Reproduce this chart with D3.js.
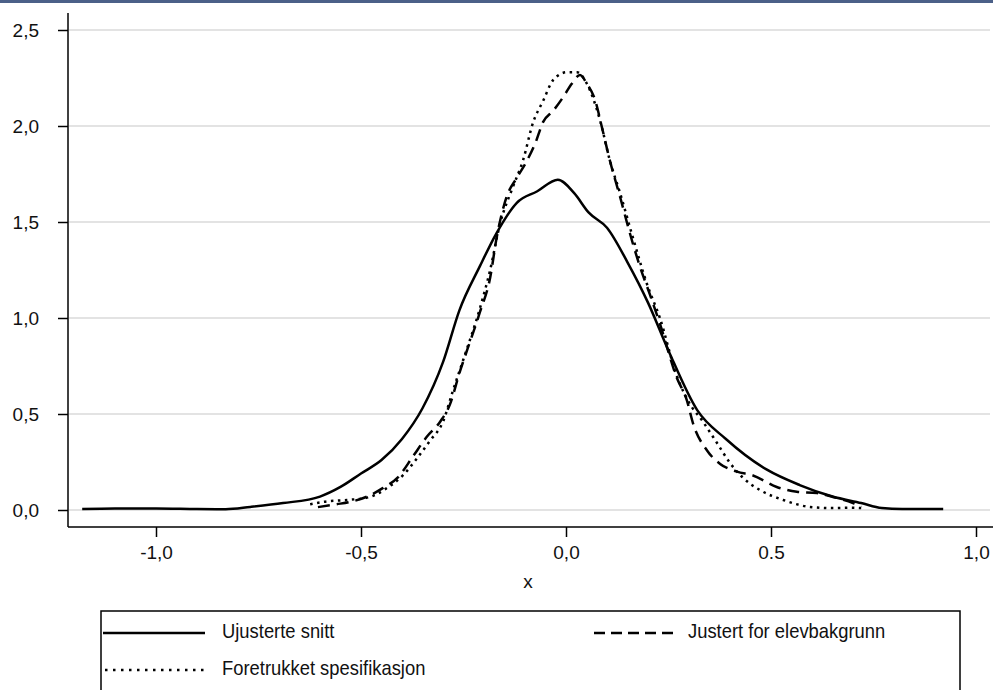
<!DOCTYPE html>
<html>
<head>
<meta charset="utf-8">
<script src="https://cdn.jsdelivr.net/npm/d3@7/dist/d3.min.js"></script>
<style>
  html, body { margin: 0; padding: 0; background: #fff; }
  svg { display: block; }
</style>
</head>
<body>
<svg id="chart" width="993" height="690"></svg>
<script>
// ---- data ----
const xTicks = [-1.0, -0.5, 0.0, 0.5, 1.0];
const xTickLabels = ["-1,0", "-0,5", "0,0", "0.5", "1,0"];
const yTicks = [0.0, 0.5, 1.0, 1.5, 2.0, 2.5];
const yTickLabels = ["0,0", "0,5", "1,0", "1,5", "2,0", "2,5"];
const seriesNames = ["Ujusterte snitt", "Justert for elevbakgrunn", "Foretrukket spesifikasjon"];

const ujusterteX = [-1.18, -1.1, -1.0, -0.9, -0.83, -0.77, -0.69, -0.6, -0.55, -0.5, -0.45, -0.4, -0.35, -0.3, -0.26, -0.21, -0.17, -0.12, -0.07, -0.02, 0.02, 0.055, 0.10, 0.15, 0.20, 0.25, 0.32, 0.39, 0.49, 0.57, 0.65, 0.72, 0.77, 0.82, 0.92];
const ujusterteY = [0.005, 0.008, 0.008, 0.005, 0.004, 0.016, 0.036, 0.07, 0.12, 0.19, 0.26, 0.37, 0.53, 0.77, 1.04, 1.27, 1.44, 1.60, 1.66, 1.72, 1.65, 1.55, 1.47, 1.29, 1.08, 0.83, 0.52, 0.37, 0.21, 0.13, 0.07, 0.036, 0.01, 0.005, 0.005];

const justertX = [-0.605, -0.56, -0.527, -0.485, -0.446, -0.41, -0.373, -0.34, -0.307, -0.283, -0.259, -0.24, -0.21, -0.185, -0.169, -0.145, -0.12, -0.095, -0.075, -0.056, -0.031, -0.007, 0.014, 0.034, 0.051, 0.071, 0.088, 0.107, 0.132, 0.156, 0.18, 0.205, 0.229, 0.27, 0.295, 0.31, 0.344, 0.376, 0.417, 0.456, 0.514, 0.563, 0.612, 0.651, 0.70, 0.72];
const justertY = [0.015, 0.03, 0.042, 0.07, 0.115, 0.17, 0.28, 0.38, 0.46, 0.55, 0.72, 0.84, 1.03, 1.21, 1.42, 1.63, 1.73, 1.82, 1.91, 2.02, 2.08, 2.15, 2.22, 2.265, 2.22, 2.135, 1.99, 1.82, 1.63, 1.44, 1.27, 1.12, 0.97, 0.69, 0.57, 0.45, 0.31, 0.24, 0.20, 0.18, 0.12, 0.095, 0.088, 0.068, 0.036, 0.016];

const foretrukketX = [-0.624, -0.583, -0.534, -0.478, -0.44, -0.398, -0.363, -0.332, -0.30, -0.276, -0.251, -0.21, -0.185, -0.161, -0.13, -0.105, -0.08, -0.056, -0.031, 0.002, 0.027, 0.051, 0.083, 0.107, 0.132, 0.163, 0.197, 0.229, 0.27, 0.30, 0.334, 0.368, 0.40, 0.432, 0.473, 0.53, 0.595, 0.651, 0.693, 0.72];
const foretrukketY = [0.03, 0.045, 0.052, 0.068, 0.11, 0.18, 0.27, 0.36, 0.46, 0.62, 0.78, 1.05, 1.25, 1.49, 1.68, 1.82, 2.02, 2.13, 2.24, 2.28, 2.28, 2.22, 2.03, 1.82, 1.65, 1.42, 1.18, 1.0, 0.70, 0.56, 0.46, 0.35, 0.245, 0.167, 0.104, 0.052, 0.016, 0.01, 0.012, 0.01];

// ---- layout ----
const svg = d3.select("#chart");
const W = 993, H = 690;
const x = d3.scaleLinear().domain([0, 1]).range([566, 976]);
const y = d3.scaleLinear().domain([0, 1]).range([510, 318]);
const plotLeft = 68, plotRight = 993, axisY = 527, axisTop = 13;
const tickFont = "Arial, 'Liberation Sans', Helvetica, sans-serif";

// top band
svg.append("rect").attr("x", 0).attr("y", 0).attr("width", W).attr("height", 3).attr("fill", "#4b6088");

// gridlines
svg.append("g").selectAll("line").data(yTicks).join("line")
  .attr("x1", plotLeft + 1).attr("x2", 990)
  .attr("y1", d => y(d)).attr("y2", d => y(d))
  .attr("stroke", "#e3e3e3").attr("stroke-width", 2);

// y axis
const yAxis = d3.axisLeft(y).tickValues(yTicks)
  .tickFormat((d, i) => yTickLabels[i]).tickSize(10).tickPadding(19);
const gy = svg.append("g").attr("transform", `translate(${plotLeft},0)`).call(yAxis);
gy.select(".domain").remove();
gy.append("line").attr("x1", 0).attr("x2", 0).attr("y1", axisTop).attr("y2", axisY)
  .attr("stroke", "#000").attr("stroke-width", 1.5);
gy.selectAll(".tick line").attr("stroke", "#000").attr("stroke-width", 1.5);
gy.selectAll(".tick text").attr("font-size", 19).attr("font-family", tickFont).attr("fill", "#111");

// x axis
const xAxis = d3.axisBottom(x).tickValues(xTicks)
  .tickFormat((d, i) => xTickLabels[i]).tickSize(10).tickPadding(9);
const gx = svg.append("g").attr("transform", `translate(0,${axisY})`).call(xAxis);
gx.select(".domain").remove();
gx.append("line").attr("x1", plotLeft).attr("x2", plotRight).attr("y1", 0).attr("y2", 0)
  .attr("stroke", "#000").attr("stroke-width", 1.5);
gx.selectAll(".tick line").attr("stroke", "#000").attr("stroke-width", 1.5);
gx.selectAll(".tick text").attr("font-size", 19).attr("font-family", tickFont).attr("fill", "#111");

svg.append("text").attr("x", 528).attr("y", 583).attr("text-anchor", "middle")
  .attr("dominant-baseline", "middle").attr("font-size", 19).attr("font-family", tickFont)
  .attr("fill", "#111").text("x");

// curves
const line = d3.line().x(d => x(d[0])).y(d => y(d[1])).curve(d3.curveMonotoneX);
const series = [
  { xs: ujusterteX, ys: ujusterteY, dash: null },
  { xs: justertX, ys: justertY, dash: "12,7" },
  { xs: foretrukketX, ys: foretrukketY, dash: "2.5,4.5" }
];
series.forEach(s => {
  const pts = s.xs.map((v, i) => [v, s.ys[i]]);
  svg.append("path").datum(pts).attr("d", line)
    .attr("fill", "none").attr("stroke", "#000").attr("stroke-width", 2.5)
    .attr("stroke-dasharray", s.dash);
});

// legend
const legFont = "Arial, 'Liberation Sans', sans-serif";
svg.append("rect").attr("x", 101).attr("y", 611).attr("width", 859).attr("height", 100)
  .attr("fill", "none").attr("stroke", "#000").attr("stroke-width", 1.5);
const legItems = [
  { name: seriesNames[0], dash: null, x0: 103, x1: 205, tx: 222, ty: 633 },
  { name: seriesNames[1], dash: "11,6", x0: 594, x1: 673, tx: 688, ty: 633 },
  { name: seriesNames[2], dash: "2.5,5.5", x0: 105, x1: 205, tx: 222, ty: 670 }
];
legItems.forEach(it => {
  svg.append("line").attr("x1", it.x0).attr("x2", it.x1).attr("y1", it.ty).attr("y2", it.ty)
    .attr("stroke", "#000").attr("stroke-width", 2.5).attr("stroke-dasharray", it.dash);
  svg.append("text").attr("transform", `translate(${it.tx},${it.ty}) scale(0.92,1)`)
    .attr("dominant-baseline", "middle")
    .attr("font-size", 20).attr("font-family", legFont).attr("fill", "#111").text(it.name);
});
</script>
</body>
</html>
